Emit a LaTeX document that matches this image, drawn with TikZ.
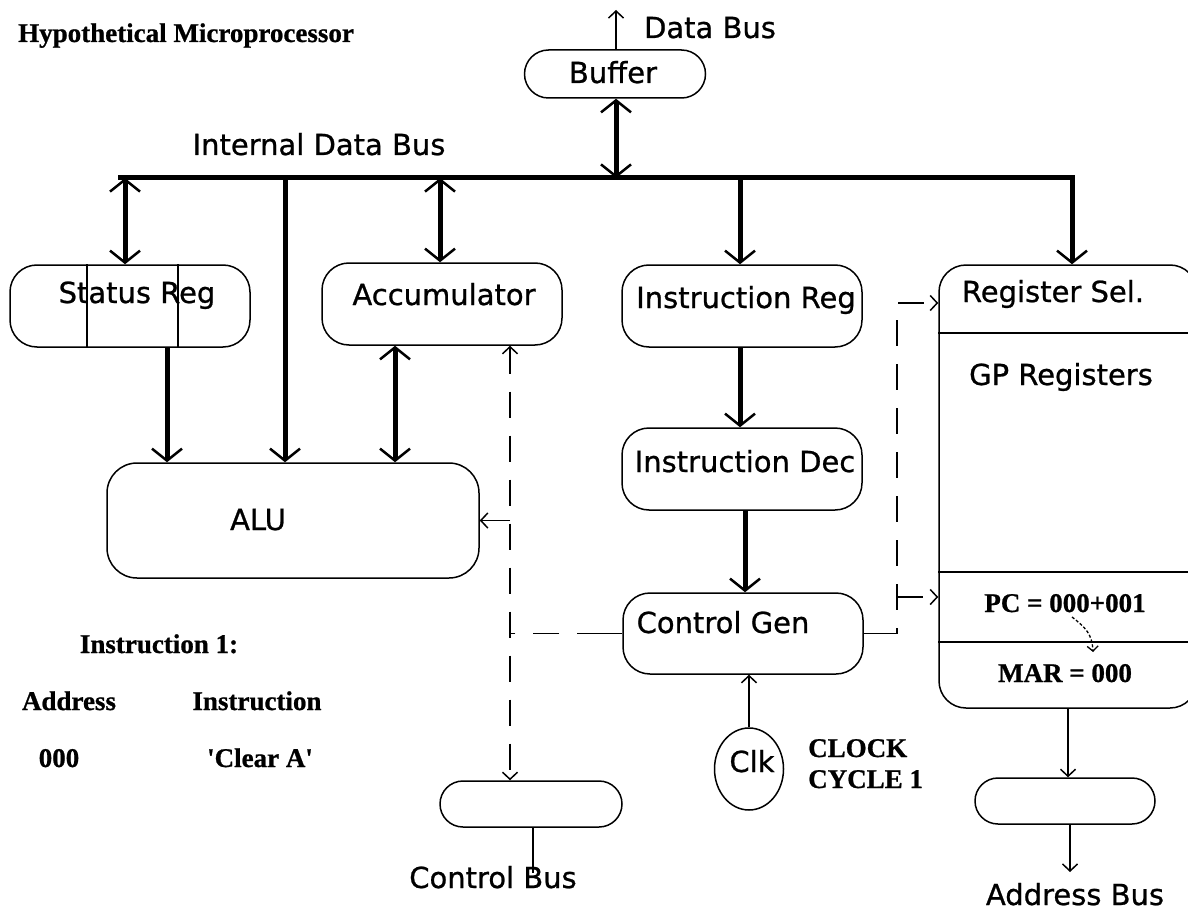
\documentclass[tikz,border=0pt]{standalone}
\usepackage{fontspec}
\setmainfont{DejaVu Sans}[FakeBold=0.8]
\newfontfamily\oldf{Liberation Serif}[FakeBold=0.8]
\usetikzlibrary{arrows.meta,shapes.geometric}
\tikzset{
  BigT/.tip={Straight Barb[length=12pt,width=30pt,line width=2.5pt]},
  SmT/.tip={Straight Barb[length=7pt,width=15pt,line width=1.5pt]},
  box/.style={draw,line width=1.5pt,inner sep=0pt,rounded corners=27pt},
  lbl/.style={inner sep=0pt,anchor=base,font=\fontsize{29}{34}\selectfont},
  slbl/.style={inner sep=0pt,anchor=base,font=\oldf\bfseries\fontsize{27}{32}\selectfont},
  thinln/.style={line width=1.5pt},
  tarr/.style={line width=1.5pt,-SmT},
  busln/.style={line width=5pt},
  barr/.style={line width=5pt,-BigT},
  bdarr/.style={line width=5pt,BigT-BigT},
  ctl/.style={line width=1.5pt,dash pattern=on 26pt off 18pt}
}
\begin{document}
\begin{tikzpicture}[x=1pt,y=-1pt]
\path[use as bounding box] (0,0) rectangle (1188,912);
\clip (0,0) rectangle (1188,912);
\fill[white] (0,0) rectangle (1188,912);

% ---- boxes ----
\node[box,minimum width=181pt,minimum height=48pt,rounded corners=24pt] (buf) at (615,74) {};
\node[box,minimum width=240pt,minimum height=82pt] (sr) at (130,306) {};
\node[box,minimum width=240pt,minimum height=82pt] (acc) at (442,304) {};
\node[box,minimum width=240pt,minimum height=82pt] (ir) at (742,306) {};
\node[box,minimum width=240pt,minimum height=82pt] (id) at (742,469) {};
\node[box,minimum width=240pt,minimum height=81pt] (cg) at (743,633.5) {};
\node[box,minimum width=372pt,minimum height=115pt,rounded corners=30pt] (alu) at (293,520.5) {};
\node[draw,ellipse,line width=1.5pt,minimum width=69pt,minimum height=82pt,inner sep=0pt] (clk) at (749,769) {};
\node[box,minimum width=182pt,minimum height=46pt,rounded corners=23pt] (cbb) at (531,804) {};
\node[box,minimum width=180pt,minimum height=46pt,rounded corners=23pt] (abb) at (1065,801) {};
\node[box,minimum width=258pt,minimum height=443pt,rounded corners=27pt] (rb) at (1068,486.5) {};

% status reg dividers
\coordinate (sv1) at (87,0);
\coordinate (sv2) at (178,0);
\draw[thinln] (sv1 |- sr.north) -- (sv1 |- sr.south);
\draw[thinln] (sv2 |- sr.north) -- (sv2 |- sr.south);

% register block dividers
\coordinate (h1) at (0,333);
\coordinate (h2) at (0,572);
\coordinate (h3) at (0,642);
\draw[thinln] (rb.west |- h1) -- (rb.east |- h1);
\draw[thinln] (rb.west |- h2) -- (rb.east |- h2);
\draw[thinln] (rb.west |- h3) -- (rb.east |- h3);

% ---- texts ----
\node[slbl,anchor=base west] (title) at (18,42) {Hypothetical Microprocessor};
\node[lbl] (tdb) at (710,38) {Data Bus};
\node[lbl] (tbuf) at (613,83) {Buffer};
\node[lbl] (tidb) at (319,155) {Internal Data Bus};
\node[lbl] (tsr) at (137,303) {Status Reg};
\node[lbl] (tacc) at (444,305) {Accumulator};
\node[lbl] (tir) at (746,308) {Instruction Reg};
\node[lbl] (tid) at (745,472) {Instruction Dec};
\node[lbl] (talu) at (258,530) {ALU};
\node[lbl] (tcg) at (723,633) {Control Gen};
\node[lbl] (tclk) at (752,772) {Clk};
\node[slbl,anchor=base west] (tclock) at (808,757) {CLOCK};
\node[slbl,anchor=base west] (tcycle) at (808,788) {CYCLE 1};
\node[lbl] (trs) at (1053,302) {Register Sel.};
\node[lbl] (tgp) at (1061,385) {GP Registers};
\node[slbl] (tpc) at (1065,612) {PC = 000+001};
\node[slbl] (tmar) at (1065,682) {MAR = 000};
\node[lbl] (tcb) at (493,888) {Control Bus};
\node[lbl] (tab) at (1075,905) {Address Bus};
\node[slbl] (tins1) at (159,653) {Instruction 1:};
\node[slbl] (taddr) at (69,710) {Address};
\node[slbl] (tinstr) at (257,710) {Instruction};
\node[slbl] (t000) at (59,767) {000};
\node[slbl] (tclr) at (260,767) {\textquotesingle Clear A\textquotesingle};

% ---- buses and connectors ----
\coordinate (dbt) at (616,10);
\coordinate (busL) at (118,178);
\coordinate (busR) at (1075,178);
\draw[busln] (busL) -- (busR);
\draw[tarr] (buf.north -| dbt) -- (dbt);
\draw[bdarr] (buf.south -| dbt) -- (dbt |- busL);

\coordinate (x1) at (125,0);
\coordinate (x2) at (285,0);
\coordinate (x3) at (440,0);
\coordinate (x4) at (740,0);
\coordinate (x5) at (1072,0);
\draw[bdarr] (x1 |- busL) -- (x1 |- sr.north);
\draw[barr] (x2 |- busL) -- (x2 |- alu.north);
\draw[bdarr] (x3 |- busL) -- (x3 |- acc.north);
\draw[barr] (x4 |- busL) -- (x4 |- ir.north);
\draw[barr] (x5 |- busL) -- (x5 |- rb.north);

\coordinate (x6) at (167,0);
\coordinate (x7) at (395,0);
\coordinate (x8) at (745,0);
\draw[barr] (x6 |- sr.south) -- (x6 |- alu.north);
\draw[bdarr] (x7 |- acc.south) -- (x7 |- alu.north);
\draw[barr] (x4 |- ir.south) -- (x4 |- id.north);
\draw[barr] (x8 |- id.south) -- (x8 |- cg.north);
\draw[tarr] (clk.north) -- (clk.north |- cg.south);

% control lines (dashed)
\coordinate (dv) at (510,0);
\draw[ctl,SmT-SmT] (dv |- acc.south) -- (dv |- cbb.north);
\draw[tarr] (dv |- alu.east) -- (alu.east);
\draw[thinln] (cg.west) -- ++(-19,0) coordinate (cgl);
\draw[ctl] (cgl) -- (dv |- cgl);
\draw[thinln] (cg.east) -- ++(13,0) coordinate (cgr);
\coordinate (dr) at (897,0);
\coordinate (rsy) at (0,303);
\coordinate (pcy) at (0,597);
\draw[ctl,-SmT] (cgr) -- (dr |- cgr) -- (dr |- rsy) -- (rb.west |- rsy);
\draw[ctl,-SmT] (dr |- pcy) -- (rb.west |- pcy);

% PC -> MAR
\coordinate (pcA) at (1072,617);
\coordinate (pcB) at (1093,652);
\draw[line width=1.3pt,dash pattern=on 3pt off 2pt,-{Straight Barb[length=5pt,width=11pt,line width=1.3pt]}] (pcA) .. controls (1086,628) and (1092,634) .. (pcB);

% address / control bus
\coordinate (x9) at (1068,0);
\coordinate (x10) at (1070,0);
\coordinate (abEnd) at (1070,872);
\draw[tarr] (x9 |- rb.south) -- (x9 |- abb.north);
\draw[tarr] (x10 |- abb.south) -- (abEnd);
\coordinate (x11) at (533,0);
\coordinate (cbEnd) at (533,873);
\draw[thinln] (x11 |- cbb.south) -- (cbEnd);
\end{tikzpicture}
\end{document}
